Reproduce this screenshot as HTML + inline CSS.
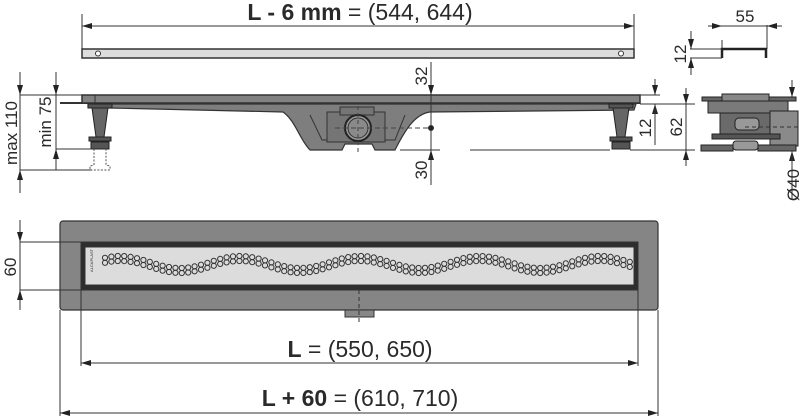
<!DOCTYPE html>
<html><head><meta charset="utf-8"><style>
html,body{margin:0;padding:0;background:#fff}
svg{display:block}
text{font-family:"Liberation Sans",sans-serif;fill:#2a2a2a}
</style></head><body>
<svg id="s" width="800" height="419" viewBox="0 0 800 419" xmlns="http://www.w3.org/2000/svg">
<defs>
<marker id="a" viewBox="0 0 10 6" refX="10" refY="3" markerWidth="10" markerHeight="6" orient="auto-start-reverse" markerUnits="userSpaceOnUse"><path d="M0,0L10,3L0,6z" fill="#222"/></marker>
</defs>
<g stroke="#333" stroke-width="1" fill="none">
<line x1="82" y1="14" x2="82" y2="49"/><line x1="634" y1="14" x2="634" y2="49"/>
<line x1="82" y1="26" x2="634" y2="26" marker-start="url(#a)" marker-end="url(#a)"/>
<rect x="82" y="49" width="552" height="9" fill="#ddd" stroke="#333" stroke-width="1.5"/>
<circle cx="98" cy="53.5" r="2.5" fill="#fff"/><circle cx="621" cy="53.5" r="2.5" fill="#fff"/>

<line x1="60" y1="103" x2="640" y2="103" stroke-width="2"/>
<rect x="82" y="95" width="558" height="8" fill="#828282" stroke="#333" stroke-width="1.5"/>
<line x1="95" y1="95" x2="95" y2="103"/>
<path d="M88,104 L636,104 L634,110 L430,112 C415,114 405,130 395,150 L375,150 L372,144 L345,144 L342,150 L310,150 C300,140 295,120 283,112 L110,108 L88,107 Z" fill="#7e7e7e" stroke="#333" stroke-width="1.2"/>
<path d="M310,115 L322,140 L345,140 M370,140 L395,140 L405,115" stroke="#333"/>
<rect x="327" y="112" width="58" height="30" fill="#757575"/>
<rect x="340" y="107" width="34" height="8" fill="#757575"/>
<circle cx="358" cy="128" r="13" fill="#999" stroke="#222" stroke-width="2"/>
<circle cx="358" cy="128" r="10" fill="#8a8a8a"/>
<line x1="335" y1="128" x2="430" y2="128" stroke-dasharray="5,3" stroke="#444"/>
<line x1="358" y1="106" x2="358" y2="155" stroke-dasharray="4,3" stroke="#444"/>
<g fill="#555" stroke="#222">
<rect x="88" y="104" width="24" height="4"/>
<path d="M92,108 L108,108 L104,137 L96,137 Z" fill="#666"/>
<rect x="89" y="137" width="22" height="4"/>
<rect x="91" y="142" width="18" height="7"/>
<rect x="609" y="104" width="24" height="4"/>
<path d="M613,108 L629,108 L625,137 L617,137 Z" fill="#666"/>
<rect x="610" y="137" width="22" height="4"/>
<rect x="612" y="142" width="18" height="7"/>
</g>
<path d="M94,149 L94,165 L90,166 L90,170 L110,170 L110,166 L106,165 L106,149" stroke-dasharray="2,1.5" stroke="#555"/>
<line x1="20" y1="95" x2="88" y2="95"/><line x1="20" y1="170" x2="92" y2="170"/><line x1="56" y1="149" x2="92" y2="149"/>
<line x1="20" y1="72" x2="20" y2="95" marker-end="url(#a)"/><line x1="20" y1="193" x2="20" y2="170" marker-end="url(#a)"/>
<line x1="56" y1="72" x2="56" y2="95" marker-end="url(#a)"/><line x1="56" y1="170" x2="56" y2="149" marker-end="url(#a)"/>
<line x1="20" y1="95" x2="20" y2="170"/><line x1="56" y1="95" x2="56" y2="149"/>
<line x1="431" y1="62" x2="431" y2="95" marker-end="url(#a)"/>
<line x1="431" y1="95" x2="431" y2="185"/>
<line x1="431" y1="170" x2="431" y2="150" marker-end="url(#a)"/>
<line x1="400" y1="150" x2="440" y2="150"/>
<circle cx="431" cy="128" r="2.5" fill="#222"/>
<line x1="470" y1="150" x2="610" y2="150"/><line x1="630" y1="150" x2="695" y2="150"/>
<line x1="640" y1="95" x2="660" y2="95"/><line x1="640" y1="104" x2="695" y2="104"/>
<line x1="655" y1="79" x2="655" y2="95" marker-end="url(#a)"/><line x1="655" y1="125" x2="655" y2="104" marker-end="url(#a)"/>
<line x1="655" y1="104" x2="655" y2="145"/>
<line x1="686" y1="88" x2="686" y2="104" marker-end="url(#a)"/><line x1="686" y1="166" x2="686" y2="150" marker-end="url(#a)"/>
<line x1="686" y1="104" x2="686" y2="150"/>
<line x1="722" y1="40" x2="722" y2="49"/><line x1="767" y1="25" x2="767" y2="49"/>
<line x1="708" y1="26" x2="722" y2="26" marker-end="url(#a)"/><line x1="782" y1="26" x2="767" y2="26" marker-end="url(#a)"/>
<line x1="722" y1="26" x2="767" y2="26"/>
<path d="M722,58 L722,49 L766,49 L766,58" stroke="#222" stroke-width="2.5"/>
<line x1="690" y1="49" x2="722" y2="49"/><line x1="690" y1="58" x2="722" y2="58"/>
<line x1="691" y1="31" x2="691" y2="49" marker-end="url(#a)"/><line x1="691" y1="75" x2="691" y2="58" marker-end="url(#a)"/>
<g stroke="#222" fill="#777">
<rect x="702" y="97" width="94" height="4" fill="#666"/>
<rect x="722" y="94" width="47" height="7" fill="#888"/>
<rect x="708" y="101" width="80" height="12" fill="#7a7a7a"/>
<rect x="720" y="113" width="55" height="22" fill="#6a6a6a"/>
<rect x="735" y="118" width="24" height="12" rx="4" fill="#999"/>
<rect x="770" y="111" width="28" height="35" fill="#8a8a8a"/>
<rect x="712" y="134" width="68" height="5" fill="#555"/>
<rect x="701" y="145" width="32" height="6" fill="#666"/>
<rect x="758" y="145" width="38" height="6" fill="#666"/>
<rect x="733" y="141" width="25" height="9" rx="3" fill="#999"/>
</g>
<line x1="745" y1="127" x2="800" y2="127" stroke-dasharray="4,3"/>
<line x1="792" y1="80" x2="792" y2="97" marker-end="url(#a)"/><line x1="792" y1="168" x2="792" y2="151" marker-end="url(#a)"/>
<line x1="792" y1="151" x2="792" y2="200"/>

<rect x="60" y="221" width="598" height="89" rx="3" fill="#858585" stroke="#333" stroke-width="1.2"/>
<rect x="81" y="242" width="557" height="48" fill="#2e2e2e"/>
<rect x="85" y="247" width="549" height="38" fill="#dcdcdc"/>
<rect x="345" y="310" width="29" height="7" fill="#888" stroke="#333"/>
<line x1="359" y1="290" x2="359" y2="322" stroke-dasharray="4,3"/>
<g id="dots" fill="none" stroke="#333" stroke-width="1"></g>
<line x1="20" y1="242" x2="81" y2="242"/><line x1="20" y1="290" x2="81" y2="290"/>
<line x1="20" y1="220" x2="20" y2="242" marker-end="url(#a)"/><line x1="20" y1="310" x2="20" y2="290" marker-end="url(#a)"/>
<line x1="20" y1="242" x2="20" y2="290"/>
<line x1="81" y1="290" x2="81" y2="366"/><line x1="638" y1="290" x2="638" y2="366"/>
<line x1="60" y1="310" x2="60" y2="416"/><line x1="658" y1="310" x2="658" y2="416"/>
<line x1="81" y1="363" x2="638" y2="363" marker-start="url(#a)" marker-end="url(#a)"/>
<line x1="60" y1="413" x2="658" y2="413" marker-start="url(#a)" marker-end="url(#a)"/>
</g>
<text x="91" y="274" font-size="4" transform="rotate(-90 91 272)" fill="#444">ALCAPLAST</text>
<text x="360" y="20" font-size="23" text-anchor="middle"><tspan font-weight="bold">L - 6 mm</tspan> = (544, 644)</text>
<text x="360" y="357" font-size="23" text-anchor="middle"><tspan font-weight="bold">L</tspan> = (550, 650)</text>
<text x="360" y="406" font-size="23" text-anchor="middle"><tspan font-weight="bold">L + 60</tspan> = (610, 710)</text>
<text x="745" y="22" font-size="17" text-anchor="middle">55</text>
<g font-size="17" text-anchor="middle">
<text transform="translate(17,133) rotate(-90)">max 110</text>
<text transform="translate(51,122) rotate(-90)">min 75</text>
<text transform="translate(427,76) rotate(-90)">32</text>
<text transform="translate(427,170) rotate(-90)">30</text>
<text transform="translate(686,54) rotate(-90)">12</text>
<text transform="translate(651,128) rotate(-90)">12</text>
<text transform="translate(682,127) rotate(-90)">62</text>
<text transform="translate(799,185) rotate(-90)">Ø40</text>
<text transform="translate(16,267) rotate(-90)">60</text>
</g>
</svg>
<script>
var g=document.getElementById('dots'),h='';
for(var x=105;x<=630;x+=6.4){var y=262-6*Math.cos((x-120)/120*2*Math.PI);
h+='<circle cx="'+x.toFixed(1)+'" cy="'+y.toFixed(1)+'" r="2.6"/><circle cx="'+x.toFixed(1)+'" cy="'+(y+5).toFixed(1)+'" r="2.6"/>';}
g.innerHTML=h;
</script>
</body></html>
